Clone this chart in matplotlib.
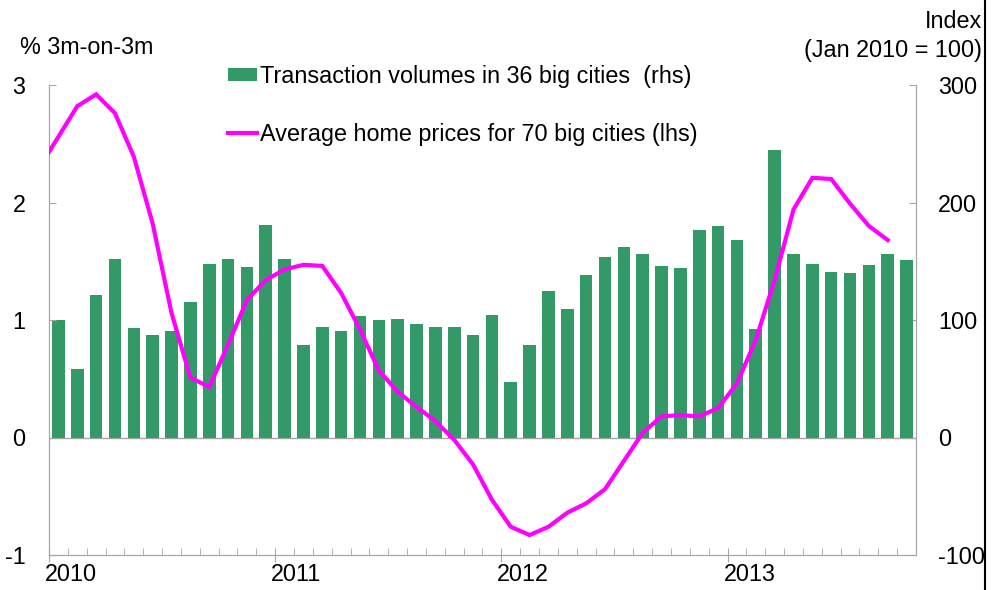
import numpy as np
import matplotlib
matplotlib.use("Agg")
import matplotlib.pyplot as plt
from matplotlib.ticker import FixedLocator
import matplotlib.transforms as mtransforms
from matplotlib.patches import Patch
from matplotlib.lines import Line2D

plt.rcParams['font.family'] = ['Liberation Sans', 'DejaVu Sans']
plt.rcParams['axes.unicode_minus'] = False

# Monthly data, Jan 2010 .. Oct 2013 (46 months)
years = ["2010", "2011", "2012", "2013"]

# Transaction volumes in 36 big cities, index Jan 2010 = 100 (rhs)
volumes = [100, 58, 121, 152, 93, 87, 91, 115, 148, 152, 145, 181,
           152, 79, 94, 91, 103, 100, 101, 97, 94, 94, 87, 104,
           47, 79, 125, 109, 138, 154, 162, 156, 146, 144, 177, 180,
           168, 92, 245, 156, 148, 141, 140, 147, 156, 151]

# Average home prices for 70 big cities, % 3m-on-3m (lhs); Dec 2009 .. Sep 2013
prices = [2.30,
          2.56, 2.82, 2.92, 2.76, 2.39, 1.82, 1.06, 0.51, 0.43, 0.79, 1.17, 1.34,
          1.43, 1.47, 1.46, 1.23, 0.92, 0.57, 0.39, 0.26, 0.14, -0.02, -0.23, -0.53,
          -0.76, -0.83, -0.76, -0.64, -0.56, -0.44, -0.20, 0.04, 0.18, 0.19, 0.18, 0.25,
          0.46, 0.83, 1.34, 1.94, 2.21, 2.20, 1.99, 1.80, 1.68]

vol_label = "Transaction volumes in 36 big cities  (rhs)"
price_label = "Average home prices for 70 big cities (lhs)"

GREEN = "#339966"
MAGENTA = "#FF00FF"
GREY = "#A6A6A6"
FS = 16.8

fig = plt.figure(figsize=(9.91, 5.90), dpi=100)
ax = fig.add_axes([49/991, 1-555/590, (916-49)/991, (555-85)/590])
ax2 = ax.twinx()

n = len(volumes)
xb = np.arange(n) + 0.5
ax2.bar(xb, volumes, width=0.67, color=GREEN, zorder=2)
ax2.axhline(0, color=GREY, lw=1.0, zorder=1)

xp = np.arange(len(prices)) - 0.5
ax.plot(xp, prices, color=MAGENTA, lw=3.0, zorder=3, solid_joinstyle='miter')

ax.set_zorder(ax2.get_zorder() + 1)
ax.patch.set_visible(False)

ax.set_xlim(0, n)
ax.set_ylim(-1, 3)
ax2.set_ylim(-100, 300)
ax.set_yticks([-1, 0, 1, 2, 3])
ax2.set_yticks([-100, 0, 100, 200, 300])

for a in (ax, ax2):
    for s in a.spines.values():
        s.set_color(GREY)
    a.spines['top'].set_visible(False)

ax.tick_params(axis='y', direction='in', length=5, color=GREY, labelsize=FS, pad=17)
ax2.tick_params(axis='y', direction='in', length=5, color=GREY, labelsize=FS, pad=16)

ax.xaxis.set_major_locator(FixedLocator([0, 12, 24, 36]))
ax.set_xticklabels(years)
ax.xaxis.set_minor_locator(FixedLocator(np.arange(0, n + 1)))
ax.tick_params(axis='x', which='major', direction='inout', length=10, color=GREY,
               labelsize=FS, pad=1)
ax.tick_params(axis='x', which='minor', direction='in', length=5, color=GREY)
off = mtransforms.ScaledTranslation(-4/100, 0, fig.dpi_scale_trans)
for lab in ax.get_xticklabels():
    lab.set_horizontalalignment('left')
    lab.set_transform(lab.get_transform() + off)

fig.text(20/991, 1-48/590, "% 3m-on-3m", fontsize=FS, ha='left', va='center')
fig.text(982/991, 1-22/590, "Index", fontsize=FS, ha='right', va='center')
fig.text(982/991, 1-50/590, "(Jan 2010 = 100)", fontsize=FS, ha='right', va='center')

handles = [Patch(facecolor=GREEN, edgecolor='none'),
           Line2D([0], [0], color=MAGENTA, lw=3.0)]
fig.legend(handles, [vol_label, price_label], loc='upper left',
           bbox_to_anchor=(228/991, 1-65/590), frameon=False, fontsize=FS,
           handlelength=1.25, handleheight=0.45, handletextpad=0.1,
           labelspacing=1.48, borderpad=0, borderaxespad=0)

# right-hand frame edge of the slide
fig.add_artist(Line2D([985/991, 985/991], [0, 1], color='black', lw=1.5,
                      transform=fig.transFigure))

fig.savefig("out.png", dpi=100)
